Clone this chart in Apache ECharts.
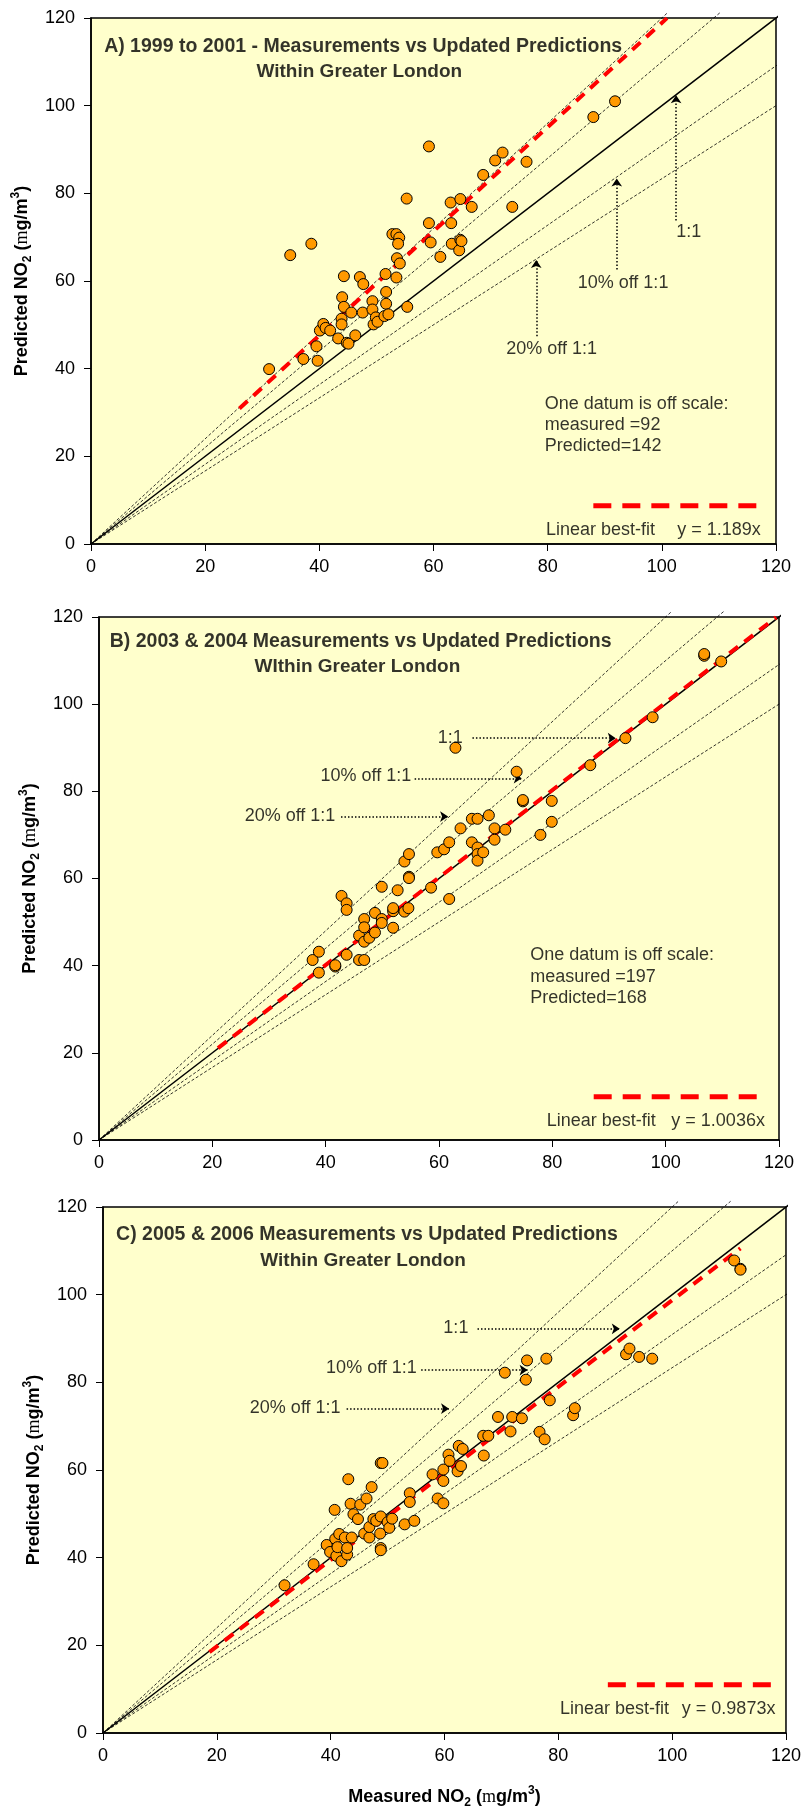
<!DOCTYPE html>
<html>
<head>
<meta charset="utf-8">
<script src="https://cdn.jsdelivr.net/npm/echarts@6/dist/echarts.min.js"></script>
<style>
  html, body { margin: 0; padding: 0; background: #ffffff; }
  #chart { width: 804px; height: 1812px; }
</style>
</head>
<body>
<div id="chart"></div>
<script>
// ---- axis ticks ----
const tickValues = [0, 20, 40, 60, 80, 100, 120];

// ---- A) 1999 to 2001 ----
const measuredA = [31.2,34.9,38.6,37.2,39.5,39.7,40.1,40.7,41.1,41.9,43.3,44.0,44.3,44.3,43.9,43.9,44.8,45.1,45.6,46.3,47.1,47.7,47.6,49.3,49.3,49.5,49.9,50.2,51.4,51.6,51.7,51.7,52.1,52.8,53.5,54.0,53.8,53.6,54.1,53.5,55.3,55.4,59.2,59.2,59.5,61.2,63.0,63.1,63.2,64.5,64.7,64.7,64.9,66.7,68.7,70.8,72.1,73.8,76.3,88.0,91.8];
const predictedA = [39.9,65.9,68.5,42.2,45.1,41.8,48.7,50.2,49.3,48.7,46.9,56.3,61.1,54.1,51.4,50.1,45.9,45.7,52.8,47.6,60.9,59.3,52.8,55.4,53.5,50.1,51.7,50.7,52.0,61.6,57.5,54.8,52.4,70.7,70.7,69.9,68.5,65.2,64.0,60.8,78.8,54.1,90.7,73.2,68.8,65.5,77.9,73.2,68.5,67.0,69.4,78.7,69.1,76.9,84.2,87.5,89.3,76.9,87.2,97.4,101.0];

// ---- B) 2003 & 2004 ----
const measuredB = [37.7,38.8,38.8,41.7,41.7,42.8,43.7,43.7,43.7,45.9,45.9,46.8,46.8,46.8,46.8,47.7,48.7,48.7,49.9,49.9,49.9,51.9,51.9,51.9,52.7,53.9,53.9,54.6,54.7,54.7,54.7,58.6,59.7,60.9,61.8,61.8,62.9,63.8,65.8,65.8,66.8,66.8,66.8,66.8,67.8,68.8,69.8,69.8,71.7,73.7,74.8,74.8,77.9,79.9,79.9,86.7,92.9,97.7,106.8,106.8,109.8];
const predictedB = [41.3,43.2,38.4,39.8,40.1,56.0,54.3,52.8,42.5,46.9,41.3,41.3,50.7,48.8,45.5,46.4,47.6,52.1,58.1,50.7,49.8,48.7,52.5,53.2,57.3,63.9,52.4,53.2,65.6,60.4,60.1,57.9,66.0,66.7,68.3,55.3,90.0,71.5,73.7,68.3,73.7,67.1,65.6,64.1,66.0,74.5,71.5,68.9,71.2,84.5,77.7,78.0,70.0,77.8,73.0,86.0,92.2,97.0,111.1,111.5,109.8];

// ---- C) 2005 & 2006 ----
const measuredC = [31.9,37.0,39.3,39.9,40.7,40.8,41.0,41.2,41.5,41.9,42.5,42.9,42.9,43.1,43.5,43.7,44.0,44.8,45.2,45.9,46.3,46.8,46.8,47.2,47.5,48.0,48.7,48.8,48.8,48.8,48.8,49.1,50.0,50.3,50.8,53.0,53.9,53.9,54.7,57.9,58.8,59.8,59.8,59.8,60.7,60.9,62.3,62.5,62.9,63.2,66.8,66.9,67.7,69.4,70.6,71.6,71.9,73.6,74.3,74.5,76.7,77.6,77.9,78.5,82.6,82.9,91.9,92.5,94.2,96.5,110.9,112.0,112.0];
const predictedC = [33.7,38.5,42.9,41.3,50.9,44.3,40.4,42.4,45.4,39.2,44.6,40.7,42.2,57.9,52.3,44.6,49.9,48.8,52.1,45.5,53.5,44.6,47.0,56.1,48.8,48.4,45.5,49.4,42.2,41.7,61.6,61.6,48.1,46.8,48.9,47.6,54.7,52.7,48.4,59.0,53.5,60.1,57.5,52.4,63.5,62.1,59.7,65.5,60.9,64.8,67.8,63.3,67.8,72.1,82.2,68.8,72.1,71.8,80.6,85.0,68.7,67.0,85.4,75.9,72.5,74.1,86.4,87.7,85.8,85.4,107.8,105.9,105.7];

// ---- fitted slopes and the x-extent of each fitted line ----
const fitSlopes = [1.189, 1.0036, 0.9873];
const fitExtents = [[26, 100.9], [21, 119.5], [18.7, 112]];
const fitLabels = ['y = 1.189x', 'y = 1.0036x', 'y = 0.9873x'];

// ---- guide lines: 1:1, 10% and 20% either side ----
const oneToOne = 1;
const guideSlopes = [1.2, 1.1, 1 / 1.1, 1 / 1.2];

// ---- text ----
const titleLines = [
  ['A) 1999 to 2001 - Measurements vs Updated Predictions', 'Within Greater London'],
  ['B) 2003 & 2004 Measurements vs Updated Predictions', 'WIthin Greater London'],
  ['C) 2005 & 2006 Measurements vs Updated Predictions', 'Within Greater London']
];
const offScaleNotes = [
  ['One datum is off scale:', 'measured =92', 'Predicted=142'],
  ['One datum is off scale:', 'measured =197', 'Predicted=168'],
  null
];
const guideNames = ['1:1', '10% off 1:1', '20% off 1:1'];

// ---- layout (pixels) ----
const grids = [
  { left: 91, top: 18, width: 685, height: 526 },
  { left: 99, top: 617, width: 680, height: 523 },
  { left: 103, top: 1207, width: 684, height: 526 }
];

// annotation anchors, in axis units
const layout = [
  { // A: arrows point up onto the lines
    titleY: [113.5, 107.7], titleX: [2.3, 47],
    guideText: [[104.7, 71.2, 'center'], [93.2, 59.6, 'center'], [80.7, 44.5, 'center']],
    arrows: [[[102.5, 73.8], [102.5, 102.4]], [[92.1, 62.6], [92.1, 83.4]], [[78, 47.4], [78, 64.8]]],
    noteX: 79.5, noteY: [32, 27.2, 22.3],
    legendLine: [88, 117.1, 8.7], legendTextY: 3.2, legendTextX: [79.7, 102.7]
  },
  { // B: arrows point right onto the lines
    titleY: [114.3, 108.5], titleX: [1.9, 45.6],
    guideText: [[62, 92.3, 'center'], [39.1, 83.4, 'left'], [25.7, 74.4, 'left']],
    arrows: [[[65.9, 92.2], [91.2, 92.2]], [[55.7, 83.0], [74.6, 83.0]], [[42.7, 74.2], [61.6, 74.2]]],
    noteX: 76.1, noteY: [42.5, 37.4, 32.6],
    legendLine: [87.3, 116.6, 9.9], legendTextY: 4.3, legendTextX: [79, 101]
  },
  { // C
    titleY: [113.6, 107.8], titleX: [2.3, 45.7],
    guideText: [[62, 92.3, 'center'], [39.2, 83.3, 'left'], [25.8, 74.2, 'left']],
    arrows: [[[65.8, 92.2], [90.8, 92.2]], [[55.9, 82.8], [74.6, 82.8]], [[42.8, 74.0], [60.8, 74.0]]],
    noteX: null, noteY: null,
    legendLine: [88.7, 117.9, 11.0], legendTextY: 5.4, legendTextX: [80.3, 101.7]
  }
];

const FONT = "'Liberation Sans', Arial, sans-serif";
const EXT = 121.3; // guide lines run a touch past the frame

const measured = [measuredA, measuredB, measuredC];
const predicted = [predictedA, predictedB, predictedC];

function guideLine(k) {
  const xe = Math.min(EXT, EXT / k);
  return [[0, 0], [xe, k * xe]];
}

const richName = {
  sub: { fontSize: 12, fontWeight: 'bold', fontFamily: FONT, verticalAlign: 'bottom', lineHeight: 16 },
  sup: { fontSize: 12, fontWeight: 'bold', fontFamily: FONT, verticalAlign: 'top', lineHeight: 14 },
  mu: { fontSize: 18, fontWeight: 'normal', fontFamily: "'Liberation Serif', serif", lineHeight: 24 }
};
const axisName = (label) => label + ' NO{sub|2} ({mu|m}g/m{sup|3})';

const xAxes = [], yAxes = [], series = [];

grids.forEach((g, p) => {
  xAxes.push({
    gridIndex: p, type: 'value', min: tickValues[0], max: tickValues[tickValues.length - 1], interval: 20,
    axisLine: { show: true, onZero: false, lineStyle: { color: '#000', width: 1.5 } },
    axisTick: { show: true, length: 7, lineStyle: { color: '#000', width: 1 } },
    axisLabel: { color: '#000', fontSize: 18, fontFamily: FONT, margin: 14 },
    splitLine: { show: false },
    name: p === 2 ? axisName('Measured') : '',
    nameLocation: 'middle', nameGap: 52,
    nameTextStyle: { color: '#000', fontSize: 18, fontWeight: 'bold', fontFamily: FONT, lineHeight: 24, rich: richName }
  });
  yAxes.push({
    gridIndex: p, type: 'value', min: tickValues[0], max: tickValues[tickValues.length - 1], interval: 20,
    axisLine: { show: true, onZero: false, lineStyle: { color: '#000', width: 1.5 } },
    axisTick: { show: true, length: 7, lineStyle: { color: '#000', width: 1 } },
    axisLabel: { color: '#000', fontSize: 18, fontFamily: FONT, margin: 16 },
    splitLine: { show: false },
    name: axisName('Predicted'),
    nameLocation: 'middle', nameGap: 56,
    nameTextStyle: { color: '#000', fontSize: 18, fontWeight: 'bold', fontFamily: FONT, lineHeight: 24, rich: richName }
  });

  const axes = { xAxisIndex: p, yAxisIndex: p };
  const L = layout[p];

  // guide lines
  guideSlopes.forEach((k) => {
    series.push(Object.assign({
      type: 'line', data: guideLine(k), symbol: 'none', clip: false, silent: true, z: 2,
      lineStyle: { color: '#000', width: 0.8, type: [3, 2] }
    }, axes));
  });
  series.push(Object.assign({
    type: 'line', data: guideLine(oneToOne), symbol: 'none', clip: false, silent: true, z: 3,
    lineStyle: { color: '#000', width: 1.5 }
  }, axes));

  // linear best fit
  const s = fitSlopes[p], fx = fitExtents[p];
  series.push(Object.assign({
    type: 'line', data: [[fx[0], s * fx[0]], [fx[1], s * fx[1]]], symbol: 'none', silent: true, z: 4,
    lineStyle: { color: '#FF0000', width: 4, type: [11, 8] }
  }, axes));

  // legend sample for the fit
  series.push(Object.assign({
    type: 'line', data: [[L.legendLine[0], L.legendLine[2]], [L.legendLine[1], L.legendLine[2]]],
    symbol: 'none', silent: true, z: 4,
    lineStyle: { color: '#FF0000', width: 5, type: [18, 11] }
  }, axes));

  // measurements
  series.push(Object.assign({
    type: 'scatter', data: measured[p].map((m, i) => [m, predicted[p][i]]),
    symbol: 'circle', symbolSize: 11, z: 6,
    itemStyle: { color: '#FF9900', borderColor: '#000', borderWidth: 1, opacity: 1 }
  }, axes));

  // text annotations and arrows
  const texts = [];
  const addText = (x, y, str, align, bold, size) => texts.push({
    value: [x, y],
    label: { show: true, formatter: str, position: 'inside', align: align, verticalAlign: 'middle',
             color: '#000', fontFamily: FONT, fontSize: size || 18, fontWeight: bold ? 'bold' : 'normal' }
  });
  addText(L.titleX[0], L.titleY[0], titleLines[p][0], 'left', true, 19.5);
  addText(L.titleX[1], L.titleY[1], titleLines[p][1], 'center', true, 19);
  L.guideText.forEach((t, i) => addText(t[0], t[1], guideNames[i], t[2], false));
  if (offScaleNotes[p]) {
    offScaleNotes[p].forEach((str, i) => addText(L.noteX, L.noteY[i], str, 'left', false));
  }
  addText(L.legendTextX[0], L.legendTextY, 'Linear best-fit', 'left', false);
  addText(L.legendTextX[1], L.legendTextY, fitLabels[p], 'left', false);

  series.push(Object.assign({
    type: 'scatter', data: texts, symbolSize: 0, silent: true, z: 8,
    markLine: {
      silent: true, symbol: ['none', 'arrow'], symbolSize: 8, animation: false,
      label: { show: false },
      lineStyle: { color: '#000', width: 1.5, type: [1.5, 2] },
      data: L.arrows.map((a) => [{ coord: a[0] }, { coord: a[1] }])
    }
  }, axes));
});

const chart = echarts.init(document.getElementById('chart'), null, { renderer: 'canvas' });
chart.setOption({
  animation: false,
  backgroundColor: '#ffffff',
  grid: grids.map((g) => Object.assign({
    show: true, backgroundColor: '#FFFFCC', borderColor: '#000', borderWidth: 1.5, containLabel: false
  }, g)),
  xAxis: xAxes,
  yAxis: yAxes,
  series: series
});
</script>
</body>
</html>
